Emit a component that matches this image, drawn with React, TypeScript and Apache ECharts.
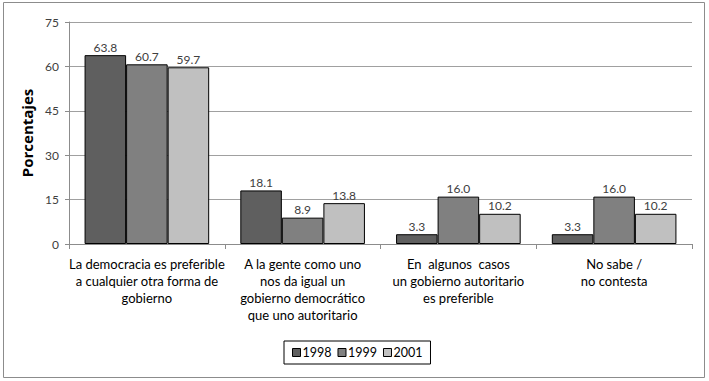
import React, { useEffect, useRef } from "react";
import * as echarts from "echarts";

const categories = [
  "La democracia es preferible\na cualquier otra forma de\ngobierno",
  "A la gente como uno\nnos da igual un\ngobierno democrático\nque uno autoritario",
  "En  algunos  casos\nun gobierno autoritario\nes preferible",
  "No sabe /\nno contesta",
];
const years = ["1998", "1999", "2001"];
const values1998 = [63.8, 18.1, 3.3, 3.3];
const values1999 = [60.7, 8.9, 16.0, 16.0];
const values2001 = [59.7, 13.8, 10.2, 10.2];
const yTicks = { min: 0, max: 75, interval: 15 };

const colors = ["#5f5f5f", "#808080", "#c0c0c0"];
const font = "Lato, 'Open Sans', sans-serif";

export default function App() {
  const ref = useRef<HTMLDivElement>(null);

  useEffect(() => {
    if (!ref.current) return;
    const chart = echarts.init(ref.current, null, { renderer: "svg" });
    const seriesData = [values1998, values1999, values2001];
    chart.setOption({
      animation: false,
      backgroundColor: "#ffffff",
      graphic: [
        {
          type: "rect",
          shape: { x: 3.5, y: 2.5, width: 701, height: 375 },
          style: { fill: "none", stroke: "#8c8c8c", lineWidth: 1 },
          silent: true,
        },
      ],
      grid: { left: 69, right: 17, top: 22, bottom: 137 },
      legend: {
        data: years,
        left: 284,
        top: 341,
        itemWidth: 8,
        itemHeight: 8,
        itemGap: 6,
        padding: [5, 8],
        borderColor: "#000",
        borderWidth: 1,
        icon: "rect",
        itemStyle: { borderColor: "#000", borderWidth: 1 },
        textStyle: { fontFamily: font, fontSize: 12.5, color: "#000", padding: [0, 0, 0, -3] },
      },
      xAxis: {
        type: "category",
        data: categories,
        axisLine: { lineStyle: { color: "#8c8c8c" } },
        axisTick: { show: true, length: 5, lineStyle: { color: "#8c8c8c" } },
        axisLabel: {
          interval: 0,
          margin: 11,
          fontFamily: font,
          fontSize: 13,
          lineHeight: 17,
          color: "#000",
        },
      },
      yAxis: {
        type: "value",
        min: yTicks.min,
        max: yTicks.max,
        interval: yTicks.interval,
        name: "Porcentajes",
        nameLocation: "middle",
        nameGap: 17,
        nameTextStyle: { fontFamily: "'Open Sans', sans-serif", fontWeight: "bold", fontSize: 15, color: "#000" },
        axisLine: { show: true, lineStyle: { color: "#8c8c8c" } },
        axisTick: { show: true, length: 4, lineStyle: { color: "#8c8c8c" } },
        axisLabel: { margin: 10, fontFamily: font, fontSize: 12, color: "#404040" },
        splitLine: { lineStyle: { color: "#a0a0a0" } },
      },
      series: years.map((y, i) => ({
        name: y,
        type: "bar",
        data: seriesData[i],
        barGap: "0%",
        barCategoryGap: "20%",
        itemStyle: { color: colors[i], borderColor: "#000", borderWidth: 1 },
        label: {
          show: true,
          position: "top",
          distance: 2,
          fontFamily: font,
          fontSize: 12,
          color: "#404040",
          formatter: (p: any) => Number(p.value).toFixed(1),
        },
      })),
    });
    return () => chart.dispose();
  }, []);

  return (
    <div
      ref={ref}
      style={{ position: "fixed", left: 0, top: 0, width: 709, height: 381 }}
    />
  );
}
